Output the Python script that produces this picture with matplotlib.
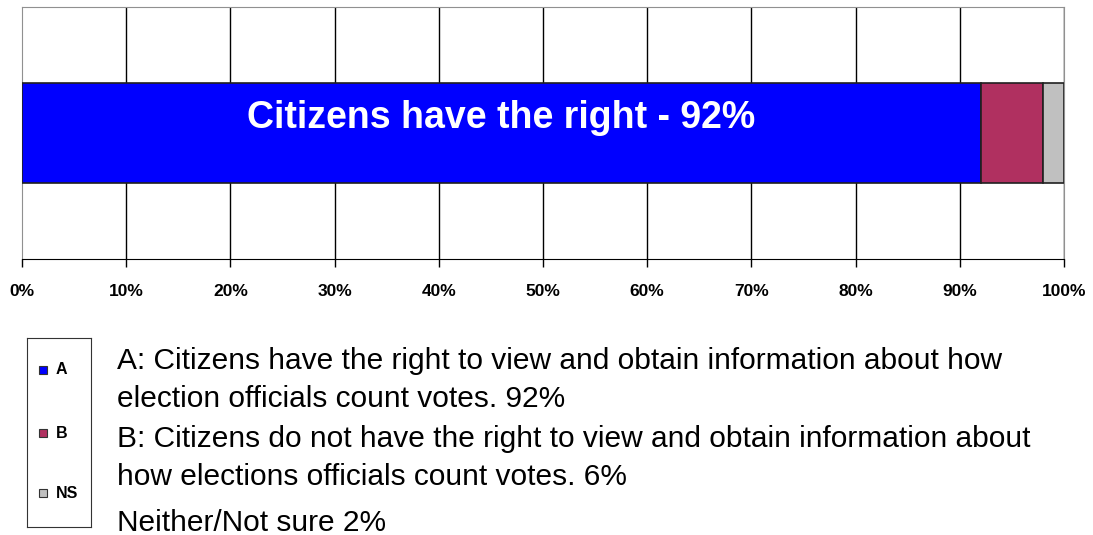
import matplotlib.pyplot as plt
from matplotlib.patches import Rectangle

plt.rcParams['font.family'] = ['Liberation Sans', 'DejaVu Sans']

# data
codes = ['A', 'B', 'NS']
shares = [92, 6, 2]
colors = ['#0000ff', '#b03060', '#c0c0c0']
bar_label = 'Citizens have the right - 92%'
ticks = list(range(0, 101, 10))
tick_labels = [f'{t}%' for t in ticks]
notes = ['A: Citizens have the right to view and obtain information about how\nelection officials count votes. 92%',
         'B: Citizens do not have the right to view and obtain information about\nhow elections officials count votes. 6%',
         'Neither/Not sure 2%']

fig = plt.figure(figsize=(10.93, 5.35), dpi=100)
W, H = 1093, 535

# main bar chart
ax = fig.add_axes([22 / W, 1 - 259 / H, (1064 - 22) / W, (259 - 7) / H])
left = 0
for code, val, col in zip(codes, shares, colors):
    ax.barh(0, val, left=left, height=0.397, color=col, edgecolor='#202020', linewidth=1.2, zorder=3)
    left += val
ax.text(shares[0] / 2, 0.06, bar_label, color='white', fontsize=27, fontweight='bold',
        ha='center', va='center', zorder=4)

ax.set_xlim(0, 100)
ax.set_ylim(-0.5, 0.5)
ax.set_xticks(ticks)
ax.set_xticklabels(tick_labels, fontsize=12.5, fontweight='bold')
ax.set_yticks([])
ax.tick_params(axis='x', length=6, width=1, pad=12, color='black')
for t in ticks[1:]:
    ax.axvline(t, color='black', lw=1, zorder=1)
for s in ['top', 'left', 'right']:
    ax.spines[s].set_color('#909090')
ax.spines['bottom'].set_color('black')

# legend box
lax = fig.add_axes([27 / W, 1 - 527 / H, (91 - 27) / W, (527 - 338) / H])
lax.set_xlim(0, 64)
lax.set_ylim(189, 0)
lax.set_xticks([])
lax.set_yticks([])
for s in lax.spines.values():
    s.set_color('#333333')
ys = [32, 95, 155]
for code, col, y in zip(codes, colors, ys):
    lax.add_patch(Rectangle((12, y - 4), 8, 8, facecolor=col, edgecolor='#333333', lw=0.8))
    lax.text(29, y, code, fontsize=11.5, fontweight='bold', va='center', ha='left')

# explanation text
fig.text(117 / W, 1 - 380 / H, notes[0], fontsize=21.5, va='center', ha='left', linespacing=1.45)
fig.text(117 / W, 1 - 458 / H, notes[1], fontsize=21.5, va='center', ha='left', linespacing=1.45)
fig.text(117 / W, 1 - 523 / H, notes[2], fontsize=21.5, va='center', ha='left')

fig.savefig('out.png', dpi=100)
